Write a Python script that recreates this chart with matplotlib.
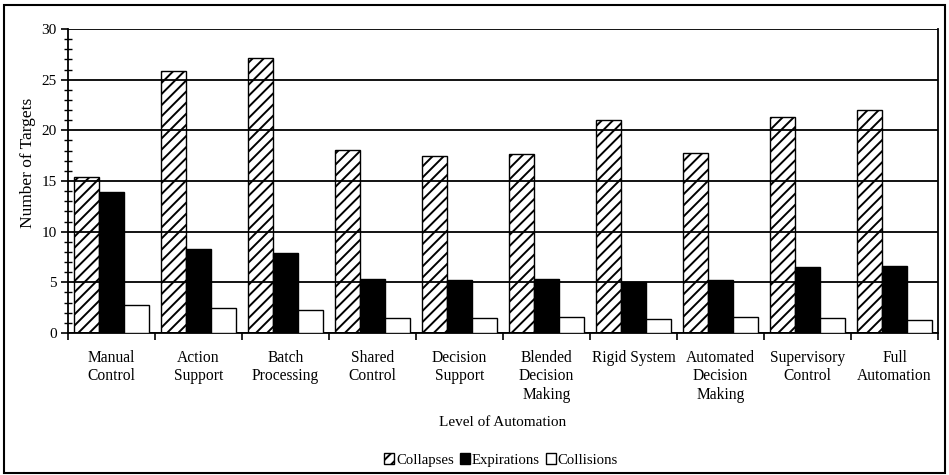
import matplotlib
matplotlib.use("Agg")
import matplotlib.pyplot as plt
from matplotlib.patches import Rectangle
from matplotlib.ticker import MultipleLocator, FixedLocator
import numpy as np

categories = ["Manual\nControl", "Action\nSupport", "Batch\nProcessing", "Shared\nControl",
              "Decision\nSupport", "Blended\nDecision\nMaking", "Rigid System",
              "Automated\nDecision\nMaking", "Supervisory\nControl", "Full\nAutomation"]
collapses = [15.4, 25.9, 27.1, 18.1, 17.5, 17.7, 21.0, 17.8, 21.3, 22.0]
expirations = [13.9, 8.3, 7.9, 5.3, 5.2, 5.3, 5.0, 5.2, 6.5, 6.6]
collisions = [2.8, 2.5, 2.3, 1.45, 1.45, 1.6, 1.4, 1.6, 1.45, 1.25]

plt.rcParams['font.family'] = ['Liberation Serif', 'DejaVu Serif']
plt.rcParams['hatch.linewidth'] = 1.4

fig = plt.figure(figsize=(9.49, 4.75), dpi=100)
ax = fig.add_axes([68/949, 1-333/475, (938-68)/949, (333-29)/475])

n = len(categories)
x = np.arange(n)
w = 0.287
ax.bar(x - w, collapses, w, facecolor='none', edgecolor='black', hatch='///', linewidth=1.0, label='Collapses', zorder=3)
ax.bar(x, expirations, w, facecolor='black', edgecolor='black', linewidth=1.0, label='Expirations', zorder=3)
ax.bar(x + w, collisions, w, facecolor='white', edgecolor='black', linewidth=1.0, label='Collisions', zorder=3)

ax.set_xlim(-0.5, n - 0.5)
ax.set_ylim(0, 30)
ax.yaxis.set_major_locator(MultipleLocator(5))
ax.yaxis.set_minor_locator(MultipleLocator(1))
ax.grid(axis='y', which='major', color='black', linewidth=1.3, zorder=1)
ax.set_axisbelow(True)

ax.set_xticks(x)
ax.set_xticklabels(categories, fontsize=11.2, linespacing=1.22)
ax.tick_params(axis='x', which='major', length=0, pad=12)
ax.xaxis.set_minor_locator(FixedLocator(np.arange(-0.5, n, 1.0)))
ax.tick_params(axis='x', which='minor', length=5, direction='out', width=1.2)
ax.tick_params(axis='y', which='major', length=5, direction='out', width=1.2, labelsize=11, pad=3)
ax.tick_params(axis='y', which='minor', length=6, direction='inout', width=1.0)

for s in ['left', 'bottom', 'right', 'top']:
    ax.spines[s].set_linewidth(1.3)
ax.spines['top'].set_visible(False)

fig.text(28/949, 1-163/475, 'Number of Targets', rotation=90, ha='center', va='center', fontsize=12.5)
fig.text((68+938)/2/949, 1-423/475, 'Level of Automation', ha='center', va='center', fontsize=11)

handles, labels = ax.get_legend_handles_labels()
fig.legend(handles, labels, loc='center', bbox_to_anchor=(501/949, 1-460/475), ncol=3,
           frameon=False, fontsize=10.6, handlelength=0.7, handleheight=0.7, handletextpad=0.12,
           columnspacing=0.4, borderpad=0)

fig.patches.append(Rectangle((4/949, 1-473/475), 941/949, 468/475, transform=fig.transFigure,
                             fill=False, edgecolor='black', linewidth=1.5))

fig.savefig('out.png', dpi=100)
